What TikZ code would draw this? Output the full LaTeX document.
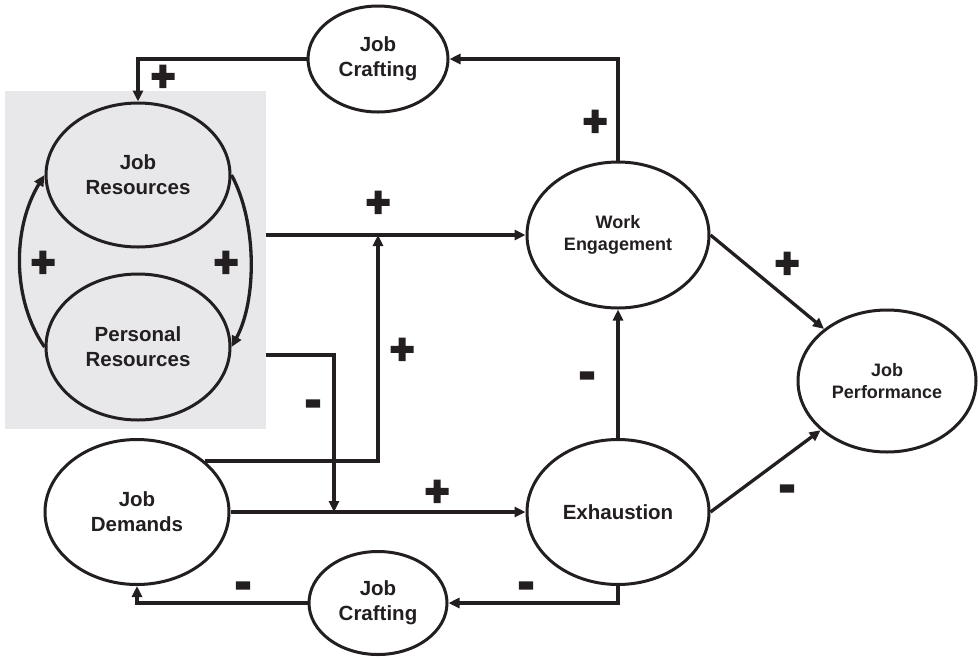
\documentclass[tikz,border=0pt]{standalone}
\usepackage{fontspec}
\setmainfont{Liberation Sans}
\newfontfamily\signfont{Liberation Sans}[FakeBold=6]
\usetikzlibrary{shapes.geometric,arrows.meta}
\definecolor{ink}{HTML}{231F20}
\definecolor{boxgrey}{HTML}{E8E8EA}
\begin{document}
\begin{tikzpicture}[x=1pt,y=-1pt,
  every node/.style={inner sep=0pt, text=ink},
  oval/.style={ellipse, draw=ink, line width=3pt, fill=white, align=center,
    font=\bfseries\fontsize{20.5}{25}\selectfont},
  ovalsm/.style={oval, font=\bfseries\fontsize{18}{22}\selectfont},
  conn/.style={draw=ink, line width=3.3pt, -{Triangle[length=11pt,width=10pt]}},
  plus/.style={font=\signfont\bfseries\fontsize{41}{41}\selectfont},
  minus/.style={font=\signfont\bfseries\fontsize{45}{45}\selectfont}]
\useasboundingbox (0,0) rectangle (978,657);
% grey box
\node[fill=boxgrey, minimum width=261pt, minimum height=338pt] (box) at (135.5,260) {};
% nodes
\node[oval, fill=boxgrey, minimum width=184pt, minimum height=144pt] (jr) at (138,175) {Job\\Resources};
\node[oval, fill=boxgrey, minimum width=184pt, minimum height=146pt] (pr) at (138,347) {Personal\\Resources};
\node[oval, minimum width=184pt, minimum height=145pt] (jd) at (137,512) {Job\\Demands};
\node[oval, minimum width=140pt, minimum height=106pt] (jct) at (378,59) {Job\\Crafting};
\node[oval, minimum width=138pt, minimum height=103pt] (jcb) at (378,603) {Job\\Crafting};
\node[ovalsm, minimum width=182pt, minimum height=146pt] (we) at (618,235) {Work\\Engagement};
\node[oval, minimum width=182pt, minimum height=145pt] (ex) at (618,512) {Exhaustion};
\node[ovalsm, minimum width=178pt, minimum height=142pt] (jp) at (887,381) {Job\\Performance};
% meeting points
\coordinate (m1) at (334,512);
\coordinate (m2) at (378,235);
\coordinate (prout) at (266,355);
% connectors
\draw[conn] (we.north) |- (jct.east);
\draw[conn] (jct.west) -| (jr.north);
\draw[conn] (box.east |- we.west) -- (we.west);
\draw[conn] (jd.east) -- (ex.west);
\draw[conn] (prout) -| (m1);
\draw[conn] (jd.37) -| (m2);
\draw[conn] (ex.north) -- (we.south);
\draw[conn] (we.east) -- (jp);
\draw[conn] (ex.east) -- (jp);
\draw[conn] (ex.south) |- (jcb.east);
\draw[conn] (jcb.west) -| (jd.south);
\draw[conn] (pr.west) .. controls (12,300) and (12,228) .. (jr.west);
\draw[conn] (jr.east) .. controls (257,222) and (257,300) .. (pr.east);
% signs
\node[plus] (s1) at (163,78) {+};
\node[plus] (s2) at (595,123) {+};
\node[plus] (s3) at (378,204) {+};
\node[plus] (s4) at (43,264) {+};
\node[plus] (s5) at (226,264) {+};
\node[plus] (s6) at (402,351) {+};
\node[plus] (s7) at (437,493) {+};
\node[plus] (s8) at (787,265) {+};
\node[minus] (n1) at (313,408) {-};
\node[minus] (n2) at (587,380) {-};
\node[minus] (n3) at (787,493) {-};
\node[minus] (n4) at (243,590) {-};
\node[minus] (n5) at (526,590) {-};
\end{tikzpicture}
\end{document}
